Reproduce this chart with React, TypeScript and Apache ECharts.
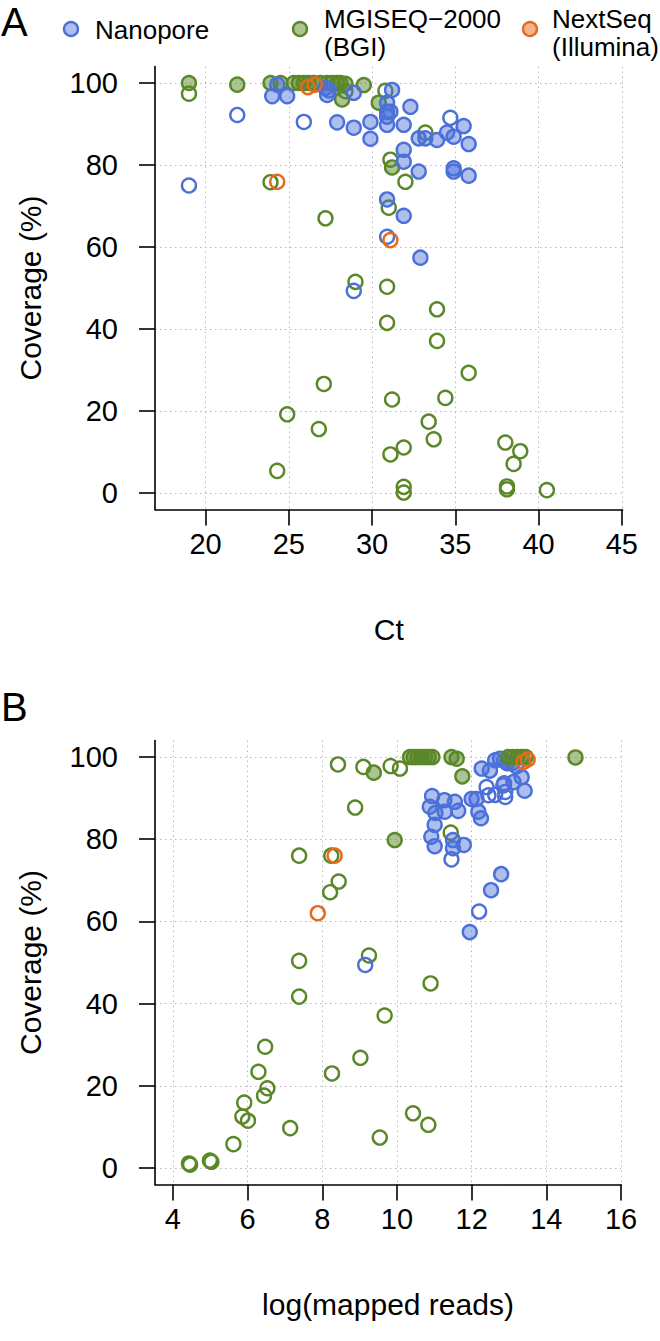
import React, { useEffect, useRef } from "react";
import * as echarts from "echarts";

// ---------- tick labels ----------
const ctTicks = [20, 25, 30, 35, 40, 45];
const readTicks = [4, 6, 8, 10, 12, 14, 16];
const covTicks = [0, 20, 40, 60, 80, 100];

// ---------- Panel A: [Ct, coverage %] ----------
const bgiFilledA = [
  [19.0, 100], [21.9, 99.6], [23.9, 100], [24.5, 100], [25.3, 100], [25.6, 100], [25.9, 100],
  [26.2, 100], [26.5, 100], [26.9, 100], [27.3, 100], [27.6, 100], [27.9, 100], [28.1, 100],
  [28.4, 99.8], [29.5, 99.5], [28.2, 96.0], [30.4, 95.2], [31.2, 79.4],
];
const bgiOpenA = [
  [19.0, 97.4], [28.4, 98.0], [30.8, 98.1], [31.1, 81.3], [31.0, 69.6], [32.0, 75.9], [33.2, 87.9],
  [23.9, 75.8], [27.2, 67.0], [29.0, 51.5], [30.9, 50.3], [33.9, 44.8], [30.9, 41.5], [33.9, 37.1],
  [35.8, 29.3], [27.1, 26.6], [31.2, 22.8], [34.4, 23.2], [24.9, 19.2], [26.8, 15.6], [33.4, 17.4],
  [33.7, 13.1], [38.0, 12.3], [38.9, 10.2], [38.5, 7.1], [31.9, 11.1], [31.1, 9.4], [24.3, 5.4],
  [31.9, 1.5], [31.9, 0.1], [38.1, 1.6], [38.1, 0.9], [40.5, 0.7],
];
const nanoFilledA = [
  [24.3, 99.6], [24.0, 96.8], [24.9, 96.8], [27.2, 98.8], [27.3, 97.1], [27.4, 98.2], [28.9, 97.6],
  [27.9, 90.4], [28.9, 89.1], [29.9, 90.5], [29.9, 86.4], [31.2, 98.3], [30.9, 95.2], [30.9, 93.0],
  [31.1, 93.0], [30.9, 91.8], [30.9, 89.8], [31.9, 89.8], [32.3, 94.2], [35.5, 89.5], [32.8, 86.5],
  [33.2, 86.5], [33.9, 86.1], [34.5, 87.9], [34.9, 86.9], [35.8, 85.1], [31.9, 83.7], [31.9, 80.8],
  [32.8, 78.4], [34.9, 79.2], [34.9, 78.4], [35.8, 77.4], [30.9, 71.6], [31.9, 67.6], [32.9, 57.4],
];
const nanoOpenA = [
  [21.9, 92.2], [19.0, 75.0], [25.9, 90.5], [34.7, 91.5], [30.9, 62.5], [28.9, 49.3],
];
const illuOpenA = [
  [24.3, 75.9], [26.15, 99.0], [26.55, 99.6], [31.1, 61.7],
];

// ---------- Panel B: [log(mapped reads), coverage %] ----------
const bgiFilledB = [
  [9.38, 96.2], [9.94, 79.8], [10.35, 100], [10.45, 100], [10.55, 100], [10.65, 100], [10.75, 100],
  [10.85, 100], [10.95, 100], [11.46, 100], [11.6, 99.6], [11.75, 95.3], [12.98, 100], [13.1, 100],
  [13.22, 100], [13.34, 100], [13.45, 100], [14.78, 99.9],
];
const bgiOpenB = [
  [8.42, 98.2], [9.1, 97.6], [9.83, 97.8], [10.08, 97.2], [8.88, 87.7], [11.44, 81.6], [7.38, 76.0],
  [8.24, 76.0], [8.44, 69.7], [8.21, 67.1], [9.25, 51.7], [7.38, 50.4], [7.38, 41.7], [10.9, 44.9],
  [9.67, 37.1], [6.47, 29.5], [6.29, 23.4], [8.26, 23.0], [9.02, 26.8], [6.53, 19.4], [6.44, 17.6],
  [5.91, 15.9], [5.86, 12.5], [6.01, 11.5], [7.14, 9.7], [10.43, 13.3], [10.84, 10.5], [9.54, 7.4],
  [5.62, 5.8], [4.43, 1.1], [4.46, 0.8], [4.99, 1.8], [5.03, 1.5],
];
const nanoFilledB = [
  [10.94, 90.5], [10.88, 87.9], [11.27, 89.5], [11.55, 89.1], [11.03, 86.4], [11.28, 86.7],
  [11.64, 86.9], [11.01, 83.5], [10.92, 80.6], [11.01, 78.3], [11.5, 79.8], [11.5, 77.8],
  [11.79, 78.6], [12.0, 89.8], [12.13, 89.8], [12.18, 86.7], [12.25, 85.1], [12.27, 97.2],
  [12.49, 96.7], [12.63, 99.2], [12.76, 99.6], [12.87, 99.1], [12.95, 98.5], [13.08, 98.5],
  [13.2, 97.7], [13.12, 93.9], [13.34, 95.1], [13.42, 91.8], [12.87, 93.6], [12.79, 71.5],
  [12.52, 67.6], [11.95, 57.4],
];
const nanoOpenB = [
  [12.4, 92.7], [12.45, 90.7], [12.63, 90.8], [12.85, 93.1], [12.9, 91.5], [12.9, 90.3],
  [11.46, 75.1], [12.2, 62.4], [9.15, 49.4],
];
const illuOpenB = [
  [8.33, 76.0], [7.88, 62.0], [13.39, 98.8], [13.5, 99.4],
];

// ---------- styling ----------
const FONT = "'Liberation Sans', Arial, Helvetica, sans-serif";
const BLUE = "#4B70D9";
const BLUE_FILL = "rgba(75,112,217,0.45)";
const GREEN = "#5A8728";
const GREEN_FILL = "rgba(90,135,40,0.5)";
const ORANGE = "#E56A1C";
const ORANGE_FILL = "rgba(229,106,28,0.5)";
const SYM = 14;
const BW = 2.4;
const AXIS_FS = 29;

function makeAxis(ticks: number[], min: number, max: number, gridIndex: number, name: string, isX: boolean) {
  return {
    type: "value",
    gridIndex,
    min,
    max,
    name,
    nameLocation: "middle",
    nameGap: isX ? 105 : 110,
    nameTextStyle: { color: "#000", fontSize: 30, fontFamily: FONT },
    axisLine: { show: true, onZero: false, lineStyle: { color: "#000", width: 1.6 } },
    axisTick: { show: true, inside: false, length: 16, customValues: ticks, lineStyle: { color: "#000", width: 1.6 } },
    axisLabel: {
      customValues: ticks,
      color: "#000",
      fontSize: AXIS_FS,
      fontFamily: FONT,
      margin: isX ? 20 : 37,
      showMinLabel: true,
      showMaxLabel: true,
    },
    splitLine: { show: true, lineStyle: { color: "#b8b8b8", type: [1.5, 3.5], width: 1 } },
  };
}

function scatter(name: string, data: number[][], idx: number, border: string, fill: string | null, z: number) {
  return {
    type: "scatter",
    name,
    xAxisIndex: idx,
    yAxisIndex: idx,
    data,
    symbol: "circle",
    symbolSize: SYM,
    z,
    itemStyle: { color: fill ?? "rgba(0,0,0,0)", borderColor: border, borderWidth: BW, opacity: 1 },
    emphasis: { disabled: true },
  };
}

function legendItem(cx: number, border: string, fill: string, lines: string[], textX: number, ys: number[]) {
  const els: any[] = [
    {
      type: "circle",
      shape: { cx, cy: 29, r: SYM / 2 },
      style: { fill, stroke: border, lineWidth: BW },
    },
  ];
  lines.forEach((t, i) => {
    els.push({
      type: "text",
      x: textX,
      y: ys[i],
      style: { text: t, fill: "#000", fontSize: 26, fontFamily: FONT, verticalAlign: "middle", align: "left" },
    });
  });
  return els;
}

export default function App() {
  const ref = useRef<HTMLDivElement>(null);
  useEffect(() => {
    const chart = echarts.init(ref.current!, null, { renderer: "svg" });
    const option: any = {
      animation: false,
      backgroundColor: "#ffffff",
      grid: [
        { left: 155, top: 66.6, width: 467.5, height: 442.8, containLabel: false },
        { left: 155, top: 740.6, width: 466, height: 443.8, containLabel: false },
      ],
      xAxis: [
        makeAxis(ctTicks, 16.96, 45.04, 0, "Ct", true),
        makeAxis(readTicks, 3.52, 16.0, 1, "log(mapped reads)", true),
      ],
      yAxis: [
        makeAxis(covTicks, -4, 104, 0, "Coverage (%)", false),
        makeAxis(covTicks, -4, 104, 1, "Coverage (%)", false),
      ],
      series: [
        scatter("MGISEQ-2000 (BGI)", bgiOpenA, 0, GREEN, null, 2),
        scatter("MGISEQ-2000 (BGI)", bgiFilledA, 0, GREEN, GREEN_FILL, 3),
        scatter("Nanopore", nanoFilledA, 0, BLUE, BLUE_FILL, 4),
        scatter("Nanopore", nanoOpenA, 0, BLUE, null, 5),
        scatter("NextSeq (Illumina)", illuOpenA, 0, ORANGE, null, 6),
        scatter("MGISEQ-2000 (BGI)", bgiOpenB, 1, GREEN, null, 2),
        scatter("Nanopore", nanoFilledB, 1, BLUE, BLUE_FILL, 3),
        scatter("Nanopore", nanoOpenB, 1, BLUE, null, 4),
        scatter("MGISEQ-2000 (BGI)", bgiFilledB, 1, GREEN, GREEN_FILL, 5),
        scatter("NextSeq (Illumina)", illuOpenB, 1, ORANGE, null, 6),
      ],
      graphic: [
        {
          type: "text",
          x: 1,
          y: 22,
          style: { text: "A", fill: "#000", fontSize: 40, fontFamily: FONT, verticalAlign: "middle" },
        },
        {
          type: "text",
          x: 1,
          y: 707,
          style: { text: "B", fill: "#000", fontSize: 40, fontFamily: FONT, verticalAlign: "middle" },
        },
        ...legendItem(71, BLUE, BLUE_FILL, ["Nanopore"], 95, [30]),
        ...legendItem(300, GREEN, GREEN_FILL, ["MGISEQ\u22122000", "(BGI)"], 324, [19, 47]),
        ...legendItem(530, ORANGE, ORANGE_FILL, ["NextSeq", "(Illumina)"], 552, [19, 47]),
      ],
    };
    chart.setOption(option);
    return () => chart.dispose();
  }, []);
  return (
    <div
      ref={ref}
      style={{ position: "absolute", left: 0, top: 0, width: 660, height: 1341, background: "#fff" }}
    />
  );
}
